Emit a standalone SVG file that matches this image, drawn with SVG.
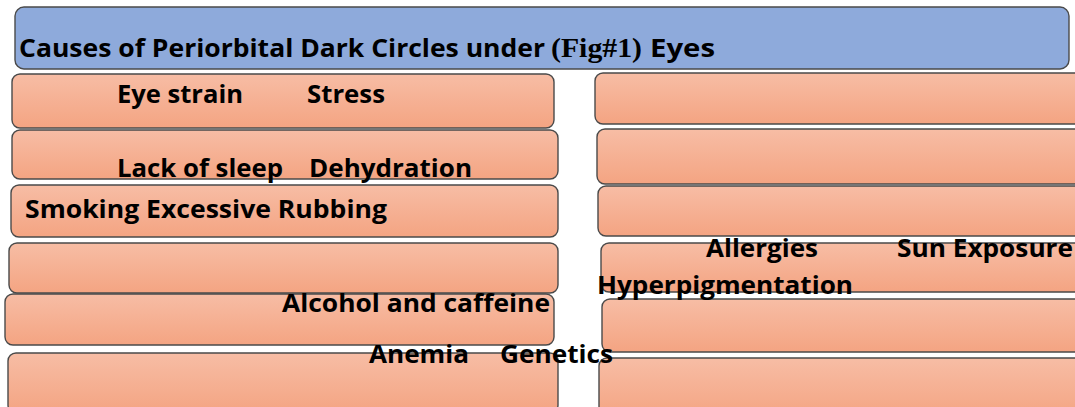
<svg xmlns="http://www.w3.org/2000/svg" width="1075" height="407" viewBox="0 0 1075 407">
  <defs>
    <linearGradient id="salmon" x1="0" y1="0" x2="0" y2="1">
      <stop offset="0" stop-color="#F7BDA5"/>
      <stop offset="1" stop-color="#F4A482"/>
    </linearGradient>
    <style>
      .box { fill: url(#salmon); stroke: #4a4a4a; stroke-width: 1.4; }
      .title-box { fill: #8EAADB; stroke: #4a4a4a; stroke-width: 1.4; }
      .lbl { font-family: "Open Sans", Lato, "Liberation Sans", sans-serif; font-weight: bold; font-size: 25px; fill: #000; font-variant-ligatures: none; }
      .ttl { font-family: "Open Sans", Lato, "Liberation Sans", sans-serif; font-weight: bold; font-size: 25.5px; fill: #000; font-variant-ligatures: none; }
      .serif { font-family: "Liberation Serif", "Times New Roman", serif; font-weight: bold; font-size: 28px; fill: #000; }
    </style>
  </defs>
  <rect width="1075" height="407" fill="#ffffff"/>

  <g id="title">
    <rect class="title-box" x="15" y="7" width="1054" height="62" rx="9"/>
  </g>

  <g id="left-boxes">
    <g id="box-l1"><rect class="box" x="12" y="74" width="542" height="54" rx="8"/></g>
    <g id="box-l2"><rect class="box" x="12" y="130" width="546" height="49" rx="8"/></g>
    <g id="box-l3"><rect class="box" x="11" y="185" width="547" height="52" rx="8"/></g>
    <g id="box-l4"><rect class="box" x="9" y="243" width="549" height="50" rx="8"/></g>
    <g id="box-l5"><rect class="box" x="5" y="294" width="549" height="51" rx="8"/></g>
    <g id="box-l6"><rect class="box" x="8" y="353" width="550" height="60" rx="8"/></g>
  </g>

  <g id="right-boxes">
    <g id="box-r1"><rect class="box" x="595" y="73" width="495" height="51" rx="8"/></g>
    <g id="box-r2"><rect class="box" x="597" y="129" width="495" height="55" rx="8"/></g>
    <g id="box-r3"><rect class="box" x="598" y="186" width="495" height="50" rx="8"/></g>
    <g id="box-r4"><rect class="box" x="601" y="243" width="495" height="49" rx="8"/></g>
    <g id="box-r5"><rect class="box" x="602" y="299" width="495" height="53" rx="8"/></g>
    <g id="box-r6"><rect class="box" x="599" y="358" width="495" height="60" rx="8"/></g>
  </g>

  <g id="connectors"></g>

  <g id="labels">
    <g id="title-text">
      <text class="ttl" x="19" y="57" textLength="526" lengthAdjust="spacingAndGlyphs">Causes of Periorbital Dark Circles under</text>
      <text class="serif" x="551" y="57" textLength="91" lengthAdjust="spacingAndGlyphs">(Fig#1)</text>
      <text class="ttl" x="650" y="57" textLength="65" lengthAdjust="spacingAndGlyphs">Eyes</text>
    </g>
    <g id="label-eye-strain"><text class="lbl" x="117" y="103" textLength="126" lengthAdjust="spacingAndGlyphs">Eye strain</text></g>
    <g id="label-stress"><text class="lbl" x="307" y="103" textLength="78" lengthAdjust="spacingAndGlyphs">Stress</text></g>
    <g id="label-lack-of-sleep"><text class="lbl" x="117" y="177" textLength="166" lengthAdjust="spacingAndGlyphs">Lack of sleep</text></g>
    <g id="label-dehydration"><text class="lbl" x="309" y="177" textLength="163" lengthAdjust="spacingAndGlyphs">Dehydration</text></g>
    <g id="label-smoking"><text class="lbl" x="25" y="218" textLength="362" lengthAdjust="spacingAndGlyphs">Smoking Excessive Rubbing</text></g>
    <g id="label-allergies"><text class="lbl" x="706" y="257" textLength="112" lengthAdjust="spacingAndGlyphs">Allergies</text></g>
    <g id="label-sun"><text class="lbl" x="897" y="257" textLength="176" lengthAdjust="spacingAndGlyphs">Sun Exposure</text></g>
    <g id="label-hyper"><text class="lbl" x="597" y="294" textLength="256" lengthAdjust="spacingAndGlyphs">Hyperpigmentation</text></g>
    <g id="label-alcohol"><text class="lbl" x="282" y="312" textLength="268" lengthAdjust="spacingAndGlyphs">Alcohol and caffeine</text></g>
    <g id="label-anemia"><text class="lbl" x="369" y="363" textLength="100" lengthAdjust="spacingAndGlyphs">Anemia</text></g>
    <g id="label-genetics"><text class="lbl" x="500" y="363" textLength="113" lengthAdjust="spacingAndGlyphs">Genetics</text></g>
  </g>
</svg>
